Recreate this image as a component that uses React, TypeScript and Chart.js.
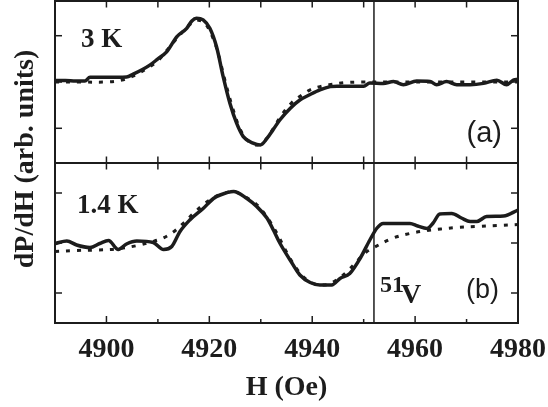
import React, { useEffect, useRef } from "react";
import { Chart, registerables } from "chart.js";

Chart.register(...registerables);

// ---- Panel (a): 3 K ----
const A_H = [4890, 4892, 4894, 4895.8, 4896.8, 4900, 4903.9, 4905.2, 4907, 4908.5, 4910, 4911.7, 4913.7, 4915.6, 4916.6, 4917.5, 4918.8, 4920.1, 4921.4, 4922.7, 4924, 4925.3, 4926.6, 4928.5, 4929.9, 4931.2, 4932.4, 4933.7, 4935.7, 4937.6, 4939.6, 4941.5, 4943.5, 4944.8, 4950, 4951.2, 4953.8, 4955.8, 4957.7, 4960.3, 4962.9, 4964.2, 4966.1, 4968.1, 4970.7, 4973.3, 4975.9, 4977.8, 4979.1, 4980];
const A_SIGNAL = [0.03, 0.03, 0.02, 0.02, 0.10, 0.10, 0.11, 0.17, 0.27, 0.37, 0.50, 0.65, 0.98, 1.16, 1.32, 1.38, 1.34, 1.16, 0.76, 0.11, -0.46, -0.89, -1.18, -1.32, -1.36, -1.22, -1.03, -0.82, -0.57, -0.39, -0.27, -0.17, -0.10, -0.09, -0.09, -0.02, -0.03, 0.01, -0.06, 0.02, 0.01, -0.06, 0.01, -0.06, -0.06, -0.03, 0.04, -0.06, 0.04, 0.06];
const A_FIT_H = [4890, 4895, 4900, 4903, 4905, 4908, 4910, 4912, 4914, 4916, 4917.5, 4918.8, 4920, 4921.5, 4923, 4924.5, 4926, 4927.5, 4929, 4930.5, 4932, 4934, 4936, 4938, 4939.6, 4941.5, 4943.3, 4946.2, 4949.5, 4955, 4965, 4980];
const A_FIT = [0.0, 0.0, 0.0, 0.04, 0.12, 0.30, 0.46, 0.72, 0.98, 1.22, 1.33, 1.30, 1.12, 0.70, 0.05, -0.55, -1.02, -1.27, -1.36, -1.30, -1.08, -0.72, -0.45, -0.28, -0.17, -0.10, -0.06, -0.015, 0.0, 0.0, 0.0, 0.0];

// ---- Panel (b): 1.4 K ----
const B_H = [4890, 4892.3, 4894.2, 4896.8, 4898.7, 4900.4, 4902.3, 4903.9, 4905.9, 4909.1, 4911.1, 4912.7, 4914.3, 4916.2, 4918.8, 4920.8, 4922.1, 4924.7, 4927.3, 4929.2, 4931.2, 4932.5, 4933.7, 4935.7, 4937.6, 4939.6, 4941.5, 4943.8, 4945.4, 4947.3, 4949.3, 4951.2, 4952.6, 4953.8, 4959, 4960.5, 4962.3, 4963.5, 4964.8, 4967.1, 4969, 4970.7, 4972, 4973.9, 4977.2, 4980];
const B_SIGNAL = [-0.01, 0.04, -0.04, -0.09, -0.01, 0.05, -0.13, -0.02, 0.04, 0.01, -0.13, -0.07, 0.23, 0.46, 0.69, 0.89, 0.96, 1.03, 0.89, 0.73, 0.50, 0.25, 0.0, -0.34, -0.64, -0.79, -0.84, -0.84, -0.71, -0.61, -0.31, 0.06, 0.30, 0.39, 0.39, 0.34, 0.29, 0.40, 0.58, 0.59, 0.50, 0.43, 0.43, 0.53, 0.54, 0.66];
const B_FIT_H = [4890, 4894, 4898, 4902, 4906, 4909, 4911, 4913, 4915, 4917, 4919, 4921, 4923, 4925, 4927, 4929, 4931, 4933, 4935, 4937, 4939, 4941, 4943, 4945, 4947, 4949, 4950.5, 4952, 4955.5, 4959, 4962.3, 4965, 4968, 4972, 4976, 4980];
const B_FIT = [-0.17, -0.15, -0.14, -0.12, -0.05, 0.03, 0.10, 0.22, 0.40, 0.60, 0.78, 0.92, 1.0, 1.02, 0.92, 0.79, 0.55, 0.22, -0.18, -0.52, -0.74, -0.83, -0.83, -0.72, -0.55, -0.33, -0.18, -0.09, 0.09, 0.19, 0.25, 0.28, 0.31, 0.33, 0.35, 0.37];

// ---- Axes ----
const X_MIN = 4890;
const X_MAX = 4980;
const X_TICKS_MAJOR = [4900, 4920, 4940, 4960, 4980];
const X_TICKS_MINOR = [4910, 4930, 4950, 4970];
const Y_TICKS = [-1, 0, 1];
const V51_LINE_H = 4952;

const PANEL_LABELS = ["3 K", "1.4 K"];
const PANEL_TAGS = ["(a)", "(b)"];
const X_TITLE = "H (Oe)";
const Y_TITLE = "dP/dH (arb. units)";

const pts = (h: number[], v: number[]) => h.map((x, i) => ({ x, y: v[i] }));

const SERIF = "'Liberation Serif', 'Times New Roman', serif";
const SANS = "'Liberation Sans', Arial, sans-serif";
const INK = "#1c1c1c";

export default function App() {
  const ref = useRef<HTMLCanvasElement>(null);

  useEffect(() => {
    document.body.style.margin = "0";
    const canvas = ref.current;
    if (!canvas) return;

    const framePlugin = {
      id: "frames",
      afterDatasetsDraw(chart: any) {
        const ctx = chart.ctx as CanvasRenderingContext2D;
        const xs = chart.scales.x;
        const yA = chart.scales.yA;
        const yB = chart.scales.yB;
        const L = chart.chartArea.left;
        const R = chart.chartArea.right;
        const T = chart.chartArea.top;
        const B = chart.chartArea.bottom;
        const line = (x1: number, y1: number, x2: number, y2: number) => {
          ctx.beginPath();
          ctx.moveTo(x1, y1);
          ctx.lineTo(x2, y2);
          ctx.stroke();
        };
        ctx.save();
        ctx.strokeStyle = INK;
        ctx.fillStyle = INK;

        // 51V reference line
        const vx = xs.getPixelForValue(V51_LINE_H);
        ctx.lineWidth = 1.5;
        line(vx, T, vx, B);

        // frames
        ctx.lineWidth = 2;
        for (const s of [yA, yB]) {
          ctx.strokeRect(L, s.top, R - L, s.bottom - s.top);
        }

        // ticks
        ctx.lineWidth = 1.5;
        for (const s of [yA, yB]) {
          const isBottom = s === yB;
          for (const v of [...X_TICKS_MAJOR, ...X_TICKS_MINOR]) {
            const px = xs.getPixelForValue(v);
            const major = X_TICKS_MAJOR.includes(v);
            line(px, s.top, px, s.top + 6.5);
            const lb = isBottom ? (major ? 7 : 4) : 6.5;
            line(px, s.bottom, px, s.bottom - lb);
          }
          for (const v of Y_TICKS) {
            const py = s.getPixelForValue(v);
            line(L, py, L + 7, py);
            line(R, py, R - 7, py);
          }
        }

        // panel labels
        ctx.textBaseline = "alphabetic";
        ctx.textAlign = "left";
        ctx.font = `bold 27px ${SERIF}`;
        ctx.fillText(PANEL_LABELS[0], L + 26, yA.top + 46);
        ctx.fillText(PANEL_LABELS[1], L + 22, yB.top + 50);

        ctx.textAlign = "right";
        ctx.font = `29px ${SANS}`;
        ctx.fillText(PANEL_TAGS[0], R - 16, yA.top + 141);
        ctx.font = `27px ${SANS}`;
        ctx.fillText(PANEL_TAGS[1], R - 19, yB.top + 135);

        // 51V isotope label
        ctx.textAlign = "left";
        ctx.font = `bold 24px ${SERIF}`;
        ctx.fillText("51", vx + 6, yB.top + 129);
        ctx.font = `bold 28px ${SERIF}`;
        ctx.fillText("V", vx + 27, yB.top + 140);

        // y title
        ctx.save();
        ctx.translate(26, (T + B) / 2 - 3);
        ctx.rotate(-Math.PI / 2);
        ctx.textAlign = "center";
        ctx.textBaseline = "middle";
        ctx.font = `bold 28px ${SERIF}`;
        ctx.fillText(Y_TITLE, 0, 0);
        ctx.restore();

        ctx.restore();
      },
    };

    const yCommon = {
      type: "linear" as const,
      position: "left" as const,
      stack: "panels",
      ticks: { display: false },
      grid: { display: false },
      border: { display: false },
      afterBuildTicks: (s: any) => {
        s.ticks = Y_TICKS.map((v) => ({ value: v }));
      },
      afterFit: (s: any) => {
        s.width = 0;
      },
    };

    const signalStyle = {
      borderColor: INK,
      borderWidth: 3.5,
      cubicInterpolationMode: "monotone" as const,
      borderJoinStyle: "round" as const,
      order: 1,
    };
    const fitStyle = {
      borderColor: INK,
      borderWidth: 3,
      borderDash: [4, 7],
      tension: 0.35,
      order: 2,
    };

    const chart = new Chart(canvas, {
      type: "line",
      data: {
        datasets: [
          { label: "3 K", data: pts(A_H, A_SIGNAL), yAxisID: "yA", ...signalStyle },
          { label: "3 K fit", data: pts(A_FIT_H, A_FIT), yAxisID: "yA", ...fitStyle },
          { label: "1.4 K", data: pts(B_H, B_SIGNAL), yAxisID: "yB", ...signalStyle },
          { label: "1.4 K fit", data: pts(B_FIT_H, B_FIT), yAxisID: "yB", ...fitStyle },
        ],
      },
      options: {
        responsive: false,
        animation: false,
        devicePixelRatio: 1,
        layout: { padding: { left: 55, right: 30, top: 1, bottom: 0 } },
        plugins: { legend: { display: false }, tooltip: { enabled: false } },
        elements: {
          point: { radius: 0 },
          line: { fill: false },
        },
        scales: {
          x: {
            type: "linear",
            min: X_MIN,
            max: X_MAX,
            afterBuildTicks: (s: any) => {
              s.ticks = X_TICKS_MAJOR.map((v) => ({ value: v }));
            },
            ticks: {
              autoSkip: false,
              maxRotation: 0,
              minRotation: 0,
              color: INK,
              padding: 2,
              font: { family: SERIF, size: 28, weight: "bold" },
              callback: (v: any) => String(v),
            },
            grid: { display: false },
            border: { display: false },
            title: {
              display: true,
              text: X_TITLE,
              color: INK,
              font: { family: SERIF, size: 28, weight: "bold" },
              padding: { top: 0, bottom: 2 },
            },
            afterFit: (s: any) => {
              s.height = 84;
              s.paddingLeft = 0;
              s.paddingRight = 0;
            },
          },
          // stacked axes: the first listed is placed at the bottom
          yB: { ...yCommon, min: -1.6, max: 1.6, stackWeight: 160 },
          yA: { ...yCommon, min: -1.75, max: 1.75, stackWeight: 162 },
        },
      },
      plugins: [framePlugin],
    } as any);

    return () => chart.destroy();
  }, []);

  return (
    <div style={{ width: 548, height: 407, background: "#fff" }}>
      <canvas ref={ref} width={548} height={407} style={{ display: "block" }} />
    </div>
  );
}
